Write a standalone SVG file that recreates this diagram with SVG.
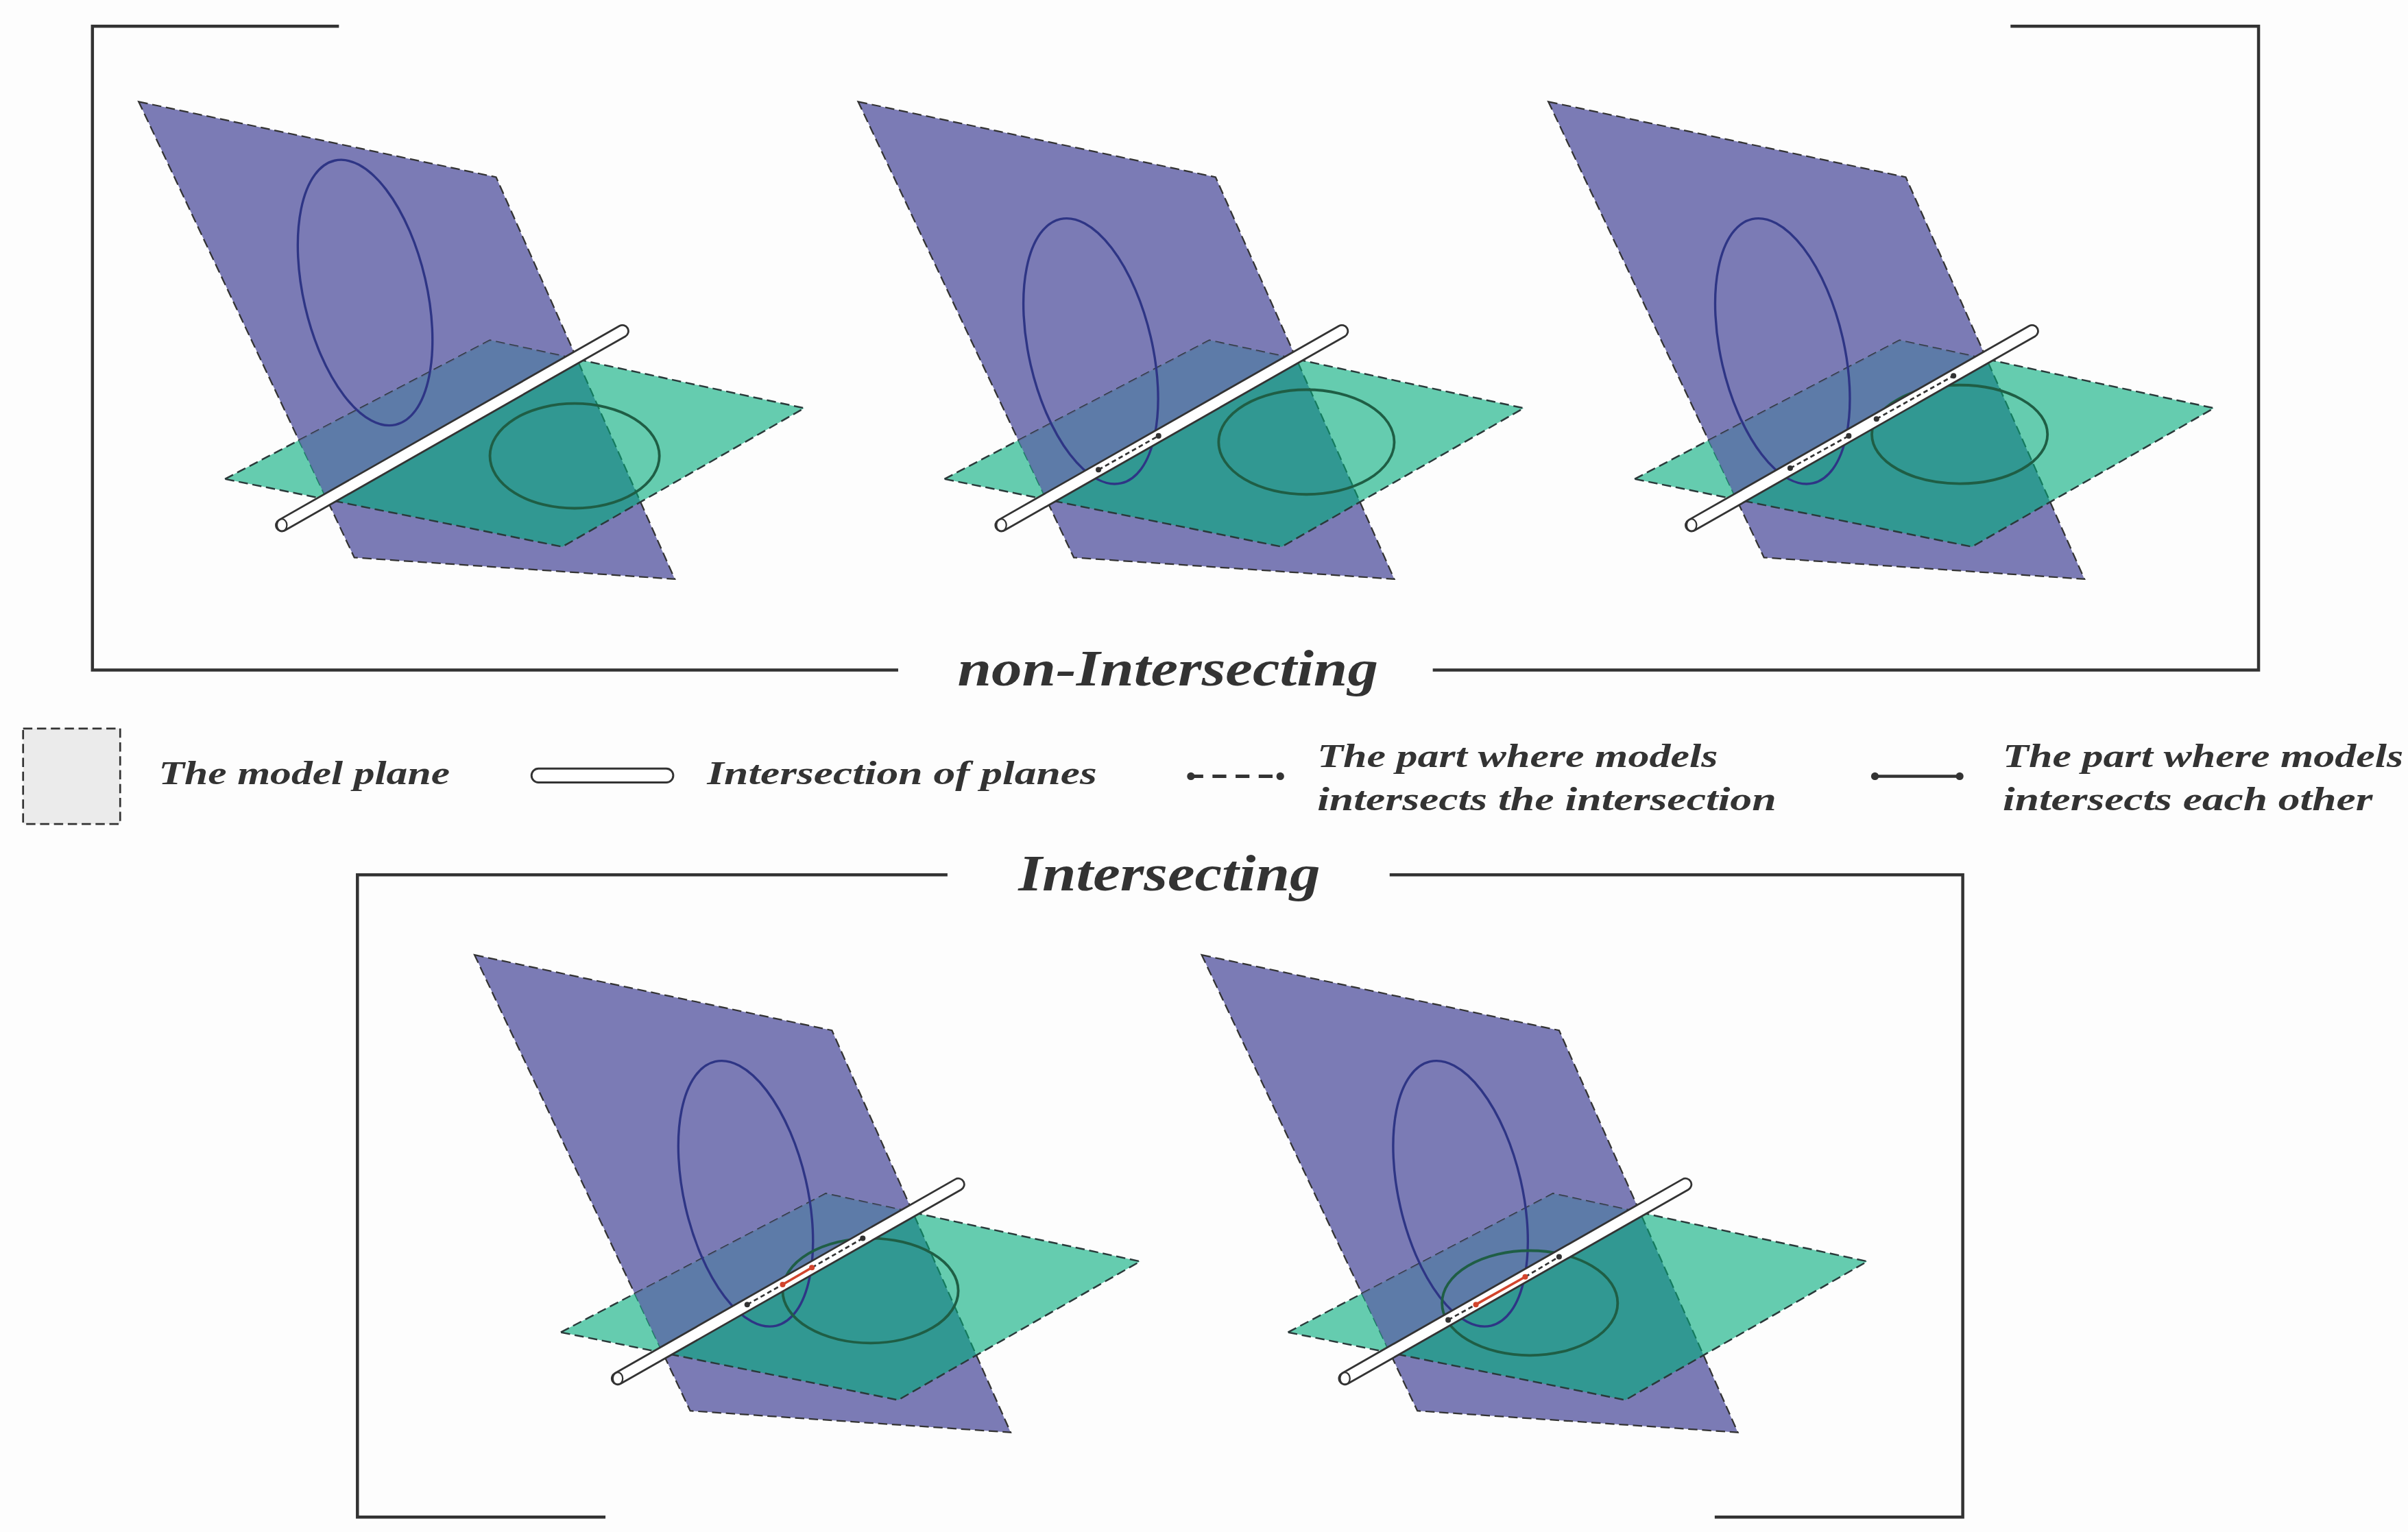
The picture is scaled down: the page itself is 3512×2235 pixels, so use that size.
<svg xmlns="http://www.w3.org/2000/svg" xmlns:xlink="http://www.w3.org/1999/xlink" width="3512" height="2235" viewBox="0 0 3512 2235">
<style>
.pp{fill:#7b7bb5;stroke:#333;stroke-width:1;stroke-dasharray:6 3}
.gp{fill:#00ac7b;fill-opacity:0.6;stroke:#2a3a3a;stroke-width:1.1;stroke-dasharray:6 3}
.pp2{fill:#6f70b0;fill-opacity:0.72}
.pe{fill:none;stroke:#2e3585;stroke-width:1.5}
.ge{fill:none;stroke:#1f5e45;stroke-width:1.7}
.frame{fill:none;stroke:#333;stroke-width:2}
.t{font-family:"Liberation Serif",serif;font-weight:bold;font-style:italic;fill:#333}
.dash{stroke:#333;stroke-width:1.2;stroke-dasharray:3 2}
.red{stroke:#d2442c;stroke-width:1.6}
.dot{fill:#333}
</style>
<defs>
<clipPath id="upper" clipPathUnits="userSpaceOnUse"><polygon points="0,0 600,0 600,103 0,446"/></clipPath>
<clipPath id="gclip" clipPathUnits="userSpaceOnUse"><polygon points="146,311 318,221 522,265 365,355"/></clipPath>
<g id="planes">
<polygon class="pp" points="90,66 322,115 438,376 230,362"/>
<polygon class="gp" points="146,311 318,221 522,265 365,355"/>
<g clip-path="url(#gclip)"><polygon class="pp2" clip-path="url(#upper)" points="90,66 322,115 438,376 230,362"/></g>
</g>
<g id="tube">
<line x1="183" y1="341" x2="404" y2="215" stroke="#333" stroke-width="9" stroke-linecap="round"/>
<line x1="183" y1="341" x2="404" y2="215" stroke="#fff" stroke-width="6.5" stroke-linecap="round"/>
<ellipse cx="183" cy="341" rx="3.2" ry="4" fill="none" stroke="#333" stroke-width="1"/>
</g>
</defs>
<g transform="scale(2.24696)">
<rect x="0" y="0" width="1563" height="995" fill="#fdfdfd"/>
<g id="frames">
<path class="frame" d="M220,17 H60 V435 H583 M930,435 H1466 V17 H1305"/>
<path class="frame" d="M615,568 H232 V985 H393 M902,568 H1274 V985 H1113"/>
</g>
<text class="t" x="758" y="445" font-size="33" text-anchor="middle" textLength="273" lengthAdjust="spacingAndGlyphs">non-Intersecting</text>
<text class="t" x="759" y="578" font-size="33" text-anchor="middle" textLength="196" lengthAdjust="spacingAndGlyphs">Intersecting</text>

<g id="panel1">
<use xlink:href="#planes"/>
<ellipse class="pe" cx="237" cy="190" rx="40" ry="88" transform="rotate(-13 237 190)"/>
<ellipse class="ge" cx="373" cy="296" rx="55" ry="34"/>
<use xlink:href="#tube"/>
</g>
<g id="panel2" transform="translate(467,0)">
<use xlink:href="#planes"/>
<ellipse class="pe" cx="241" cy="228" rx="40" ry="88" transform="rotate(-13 241 228)"/>
<ellipse class="ge" cx="381" cy="287" rx="57" ry="34"/>
<use xlink:href="#tube"/>
<line class="dash" x1="246" y1="305" x2="285" y2="283"/>
<circle class="dot" cx="246" cy="305" r="1.8"/><circle class="dot" cx="285" cy="283" r="1.8"/>
</g>
<g id="panel3" transform="translate(915,0)">
<use xlink:href="#planes"/>
<ellipse class="pe" cx="242" cy="228" rx="40" ry="88" transform="rotate(-13 242 228)"/>
<ellipse class="ge" cx="357" cy="282" rx="57" ry="32"/>
<use xlink:href="#tube"/>
<line class="dash" x1="247" y1="304" x2="285" y2="283"/>
<line class="dash" x1="303" y1="272" x2="353" y2="244"/>
<circle class="dot" cx="247" cy="304" r="1.8"/><circle class="dot" cx="285" cy="283" r="1.8"/>
<circle class="dot" cx="303" cy="272" r="1.8"/><circle class="dot" cx="353" cy="244" r="1.8"/>
</g>
<g id="panel4" transform="translate(218,554)">
<use xlink:href="#planes"/>
<ellipse class="pe" cx="266" cy="221" rx="40" ry="88" transform="rotate(-13 266 221)"/>
<ellipse class="ge" cx="347" cy="284" rx="57" ry="34"/>
<use xlink:href="#tube"/>
<line class="dash" x1="267" y1="293" x2="290" y2="280"/>
<line class="red" x1="290" y1="280" x2="309" y2="269"/>
<line class="dash" x1="309" y1="269" x2="342" y2="250"/>
<circle class="dot" cx="267" cy="293" r="1.8"/><circle class="dot" cx="342" cy="250" r="1.8"/>
<circle cx="290" cy="280" r="1.8" fill="#d2442c"/><circle cx="309" cy="269" r="1.8" fill="#d2442c"/>
</g>
<g id="panel5" transform="translate(690,554)">
<use xlink:href="#planes"/>
<ellipse class="pe" cx="258" cy="221" rx="40" ry="88" transform="rotate(-13 258 221)"/>
<ellipse class="ge" cx="303" cy="292" rx="57" ry="34"/>
<use xlink:href="#tube"/>
<line class="dash" x1="250" y1="303" x2="268" y2="293"/>
<line class="red" x1="268" y1="293" x2="300" y2="275"/>
<line class="dash" x1="300" y1="275" x2="322" y2="262"/>
<circle class="dot" cx="250" cy="303" r="1.8"/><circle class="dot" cx="322" cy="262" r="1.8"/>
<circle cx="268" cy="293" r="1.8" fill="#d2442c"/><circle cx="300" cy="275" r="1.8" fill="#d2442c"/>
</g>

<g id="legend">
<rect x="15" y="473" width="63" height="62" fill="#ebebeb" stroke="#333" stroke-width="1.2" stroke-dasharray="6 3"/>
<text class="t" x="103" y="509" font-size="22" textLength="189" lengthAdjust="spacingAndGlyphs">The model plane</text>
<rect x="345" y="499" width="92" height="9" rx="4.5" fill="#fff" stroke="#333" stroke-width="1.3"/>
<text class="t" x="459" y="509" font-size="22" textLength="253" lengthAdjust="spacingAndGlyphs">Intersection of planes</text>
<line x1="772" y1="504" x2="832" y2="504" stroke="#333" stroke-width="2.2" stroke-dasharray="9 6"/>
<circle class="dot" cx="773" cy="504" r="2.5"/><circle class="dot" cx="831" cy="504" r="2.5"/>
<text class="t" x="855" y="498" font-size="22" textLength="260" lengthAdjust="spacingAndGlyphs">The part where models</text>
<text class="t" x="855" y="526" font-size="22" textLength="298" lengthAdjust="spacingAndGlyphs">intersects the intersection</text>
<line x1="1216" y1="504" x2="1273" y2="504" stroke="#333" stroke-width="2"/>
<circle class="dot" cx="1217" cy="504" r="2.5"/><circle class="dot" cx="1272" cy="504" r="2.5"/>
<text class="t" x="1300" y="498" font-size="22" textLength="260" lengthAdjust="spacingAndGlyphs">The part where models</text>
<text class="t" x="1300" y="526" font-size="22" textLength="240" lengthAdjust="spacingAndGlyphs">intersects each other</text>
</g>
</g>
</svg>
